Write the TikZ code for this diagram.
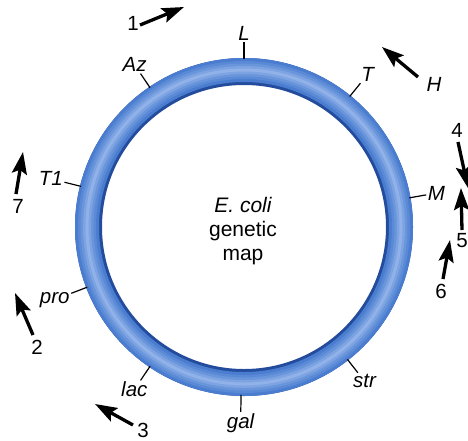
\documentclass[tikz,border=0pt]{standalone}
\usepackage{fontspec}
\setmainfont{Liberation Sans}
\usetikzlibrary{arrows.meta}
\definecolor{ringedge}{RGB}{36,76,156}
\definecolor{ringblue}{RGB}{74,125,208}
\definecolor{ringlight}{RGB}{152,184,236}
\begin{document}
\begin{tikzpicture}[x=1pt, y=-1pt, >={Stealth[length=22pt,width=15pt,inset=4pt]},
  tick/.style={line width=1.2pt},
  gene/.style={font=\fontsize{20.5}{24}\selectfont\itshape, inner sep=1.5pt},
  num/.style={font=\fontsize{20.5}{24}\selectfont, inner sep=1pt},
  move/.style={->, line width=3.3pt},
  centre/.style={font=\fontsize{21}{24}\selectfont, inner sep=0pt}]
\useasboundingbox (0,0) rectangle (468,440);
\coordinate (c) at (244,227);
% Anel
\draw[ringedge, line width=27pt] (c) circle[radius=155.5];
\foreach \w/\p in {24/0,18/20,13/40,8/65,3/90}
  \draw[ringlight!\p!ringblue, line width=\w pt] (c) circle[radius=157];
% Texto central
\node[centre, anchor=base] (ecoli) at (243,212) {\itshape E. coli};
\node[centre, anchor=base] (genetic) at (243,236) {genetic};
\node[centre, anchor=base] (map) at (243,260) {map};
% Genes
\foreach \g/\a [evaluate=\a as \b using {int(\a+180)}] in
    {L/90, T/51, Az/124, T1/166, M/10, pro/201, lac/236, gal/269, str/308} {
  \coordinate (\g-in) at ([shift={(c)}]-\a:168);
  \coordinate (\g-out) at ([shift={(c)}]-\a:185);
  \draw[tick] (\g-in) -- (\g-out);
  \node[gene, anchor=\b] (\g) at (\g-out) {\g};
}
% Setas
\foreach \n/\lx/\ly/\sx/\sy/\px/\py in
    {1/133/23/140/25/184/7, 4/457/130/458/142/468/188, 5/462/241/462/230/461/188,
     6/441/291/443/279/450/240, 7/18/206/16/194/23/152, 2/37/347/33/335/15/293,
     3/143/430/133/425/95/404} {
  \node[num] (n\n) at (\lx,\ly) {\n};
  \coordinate (s\n) at (\sx,\sy);
  \coordinate (p\n) at (\px,\py);
  \draw[move] (s\n) -- (p\n);
}
\node[gene] (nH) at (434,84) {H};
\coordinate (sH) at (418,77);
\coordinate (pH) at (382,47);
\draw[move] (sH) -- (pH);
\end{tikzpicture}
\end{document}
